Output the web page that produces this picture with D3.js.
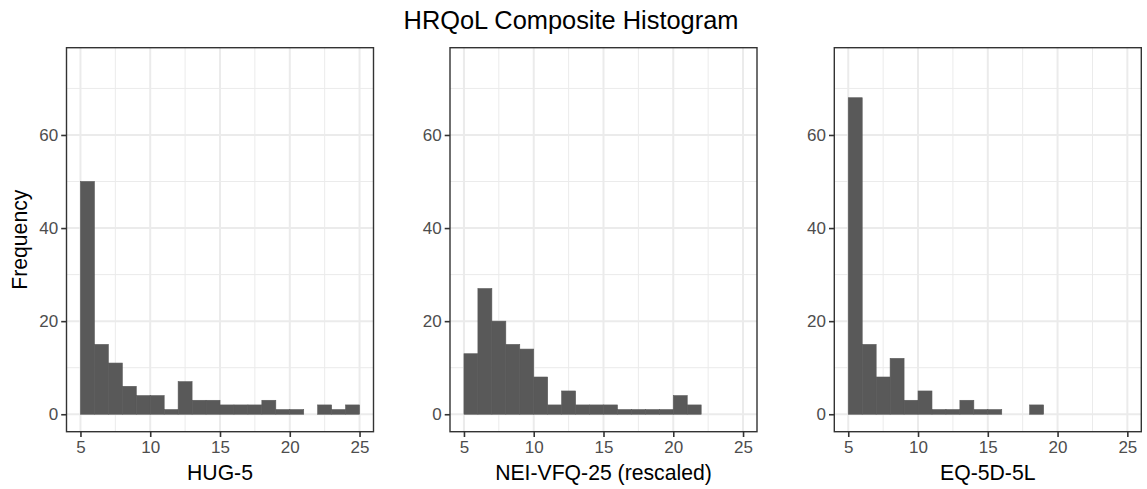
<!DOCTYPE html>
<html>
<head>
<meta charset="utf-8">
<script src="https://cdn.jsdelivr.net/npm/d3@7"></script>
<style>
  html, body { margin: 0; padding: 0; background: #ffffff; }
  svg { display: block; font-family: "Liberation Sans", Arial, sans-serif; }
</style>
</head>
<body>
<svg id="chart" width="1147" height="489"></svg>
<script>
// ---- data ----
const chartTitle = "HRQoL Composite Histogram";
const yAxisTitle = "Frequency";
const panelTitles = ["HUG-5", "NEI-VFQ-25 (rescaled)", "EQ-5D-5L"];
const binStart = 5;
const binWidth = 1;
const hug5Counts = [50, 15, 11, 6, 4, 4, 1, 7, 3, 3, 2, 2, 2, 3, 1, 1, 0, 2, 1, 2];
const neiVfqCounts = [13, 27, 20, 15, 14, 8, 2, 5, 2, 2, 2, 1, 1, 1, 1, 4, 2];
const eq5dCounts = [68, 15, 8, 12, 3, 5, 1, 1, 3, 1, 1, 0, 0, 2];
const xTicks = [5, 10, 15, 20, 25];
const xMinorTicks = [7.5, 12.5, 17.5, 22.5];
const yTicks = [0, 20, 40, 60];
const yMinorTicks = [10, 30, 50, 70];
const xDomain = [5, 25];
const yDomain = [0, 75];

// ---- layout ----
const svg = d3.select("#chart");
const panelLefts = [66.5, 450, 834.3];
const panelWidth = 307;
const panelTop = 47.7, panelBottom = 431.7;
const seriesList = [hug5Counts, neiVfqCounts, eq5dCounts];

const xPad = (xDomain[1] - xDomain[0]) * 0.05;
const yPad = (yDomain[1] - yDomain[0]) * 0.05;
const y = d3.scaleLinear()
  .domain([yDomain[0] - yPad, yDomain[1] + yPad])
  .range([panelBottom, panelTop]);

svg.append("text")
  .attr("x", 571).attr("y", 28.5)
  .attr("text-anchor", "middle")
  .attr("font-size", 25.4)
  .attr("fill", "#000")
  .text(chartTitle);

seriesList.forEach((counts, pi) => {
  const left = panelLefts[pi];
  const x = d3.scaleLinear()
    .domain([xDomain[0] - xPad, xDomain[1] + xPad])
    .range([left, left + panelWidth]);
  const g = svg.append("g");

  g.append("rect")
    .attr("x", left).attr("y", panelTop)
    .attr("width", panelWidth).attr("height", panelBottom - panelTop)
    .attr("fill", "#fff");

  // minor grid
  g.selectAll(".xminor").data(xMinorTicks).join("line")
    .attr("x1", d => x(d)).attr("x2", d => x(d))
    .attr("y1", panelTop).attr("y2", panelBottom)
    .attr("stroke", "#EBEBEB").attr("stroke-width", 1);
  g.selectAll(".yminor").data(yMinorTicks).join("line")
    .attr("y1", d => y(d)).attr("y2", d => y(d))
    .attr("x1", left).attr("x2", left + panelWidth)
    .attr("stroke", "#EBEBEB").attr("stroke-width", 1);
  // major grid
  g.selectAll(".xmajor").data(xTicks).join("line")
    .attr("x1", d => x(d)).attr("x2", d => x(d))
    .attr("y1", panelTop).attr("y2", panelBottom)
    .attr("stroke", "#EBEBEB").attr("stroke-width", 2);
  g.selectAll(".ymajor").data(yTicks).join("line")
    .attr("y1", d => y(d)).attr("y2", d => y(d))
    .attr("x1", left).attr("x2", left + panelWidth)
    .attr("stroke", "#EBEBEB").attr("stroke-width", 2);

  // bars
  const bins = counts.map((c, i) => ({ x0: binStart + i * binWidth, x1: binStart + (i + 1) * binWidth, n: c }));
  g.selectAll(".bar").data(bins.filter(b => b.n > 0)).join("rect")
    .attr("x", d => x(d.x0))
    .attr("width", d => x(d.x1) - x(d.x0))
    .attr("y", d => y(d.n))
    .attr("height", d => y(0) - y(d.n))
    .attr("fill", "#595959")
    .attr("stroke", "#595959")
    .attr("stroke-width", 0.6);

  // border
  g.append("rect")
    .attr("x", left).attr("y", panelTop)
    .attr("width", panelWidth).attr("height", panelBottom - panelTop)
    .attr("fill", "none").attr("stroke", "#333333").attr("stroke-width", 1.4);

  // axes
  const xAxis = d3.axisBottom(x).tickValues(xTicks).tickSize(5.3).tickPadding(3).tickFormat(d3.format("d"));
  const yAxis = d3.axisLeft(y).tickValues(yTicks).tickSize(5.3).tickPadding(3).tickFormat(d3.format("d"));
  const gx = g.append("g").attr("transform", `translate(0,${panelBottom})`).call(xAxis);
  const gy = g.append("g").attr("transform", `translate(${left},0)`).call(yAxis);
  [gx, gy].forEach(a => {
    a.select(".domain").remove();
    a.selectAll(".tick line").attr("stroke", "#333333").attr("stroke-width", 1.6);
    a.selectAll(".tick text").attr("fill", "#4D4D4D").attr("font-size", 17)
      .attr("font-family", "Liberation Sans, Arial, sans-serif");
  });
  gx.selectAll(".tick text").attr("dy", "0.75em");

  g.append("text")
    .attr("x", left + panelWidth / 2).attr("y", 479.5)
    .attr("text-anchor", "middle")
    .attr("font-size", 21.2)
    .attr("fill", "#000")
    .text(panelTitles[pi]);

  if (pi === 0) {
    g.append("text")
      .attr("transform", `translate(26.8,${(panelTop + panelBottom) / 2}) rotate(-90)`)
      .attr("text-anchor", "middle")
      .attr("font-size", 21.2)
      .attr("fill", "#000")
      .text(yAxisTitle);
  }
});
</script>
</body>
</html>
